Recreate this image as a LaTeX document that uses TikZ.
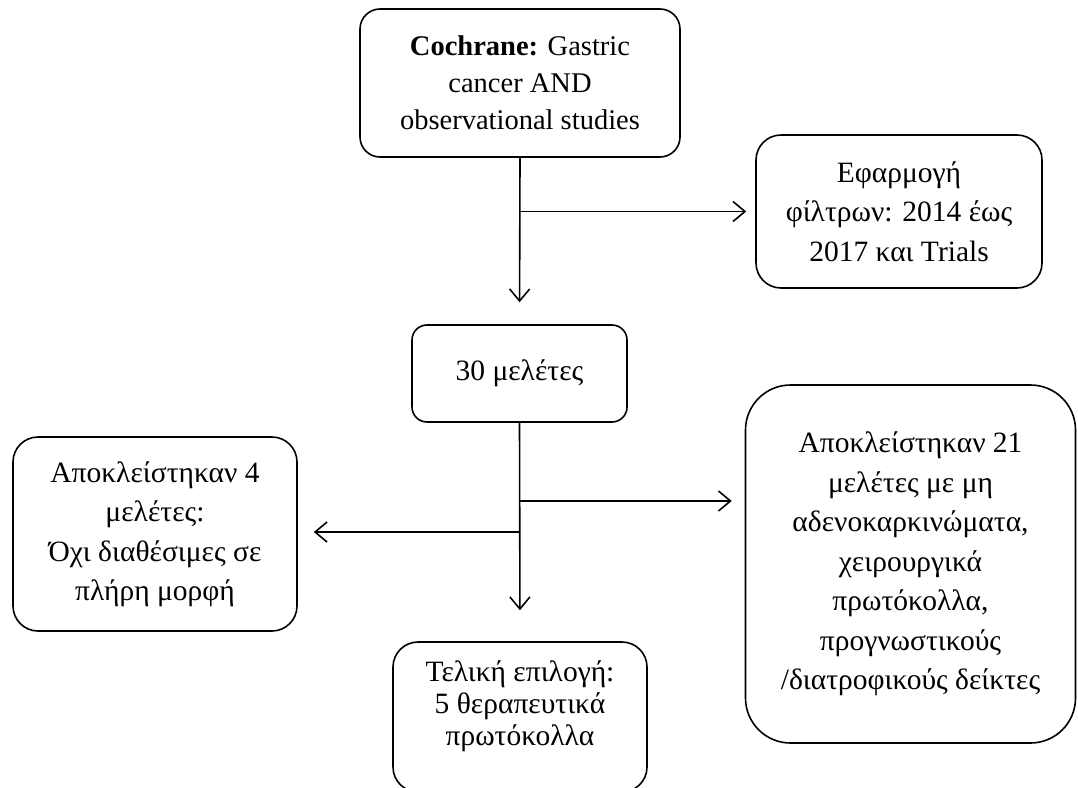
\documentclass[tikz,border=0pt]{standalone}
\usepackage{fontspec}
\setmainfont{Liberation Serif}
\usetikzlibrary{arrows.meta}
\begin{document}
\begin{tikzpicture}[x=1pt,y=-1pt,
  box/.style={draw, line width=1.6pt, rounded corners=#1, align=center, inner sep=0pt,
    font=\fontsize{29.5}{39.5}\selectfont},
  box/.default=20pt,
  txt/.style={align=center, inner sep=0pt, font=\fontsize{29.5}{32}\selectfont},
  arr/.style={line width=1.6pt, -{Straight Barb[length=12pt,width=20pt,line width=1.6pt]}}]
\fill[white] (0,0) rectangle (1078,787);
\useasboundingbox (0,0) rectangle (1078,787);
\clip (0,0) rectangle (1078,787);

\node[box=20pt, minimum width=320pt, minimum height=148pt,
  font=\fontsize{28.5}{37}\selectfont] (coch) at (520,83)
  {\textbf{Cochrane:} Gastric\\ cancer AND\\ observational studies};
\node[box=25pt, minimum width=286pt, minimum height=153pt] (filt) at (899,211.5)
  {Εφαρμογή\\ φίλτρων: 2014 έως\\ 2017 και Trials};
\node[box=15pt, minimum width=215pt, minimum height=97pt] (thirty) at (519.5,373.5)
  {30 μελέτες};
\node[box=25pt, minimum width=284pt, minimum height=194pt] (exl) at (155,534)
  {Αποκλείστηκαν 4\\ μελέτες:\\ Όχι διαθέσιμες σε\\ πλήρη μορφή};
\node[box=45pt, minimum width=330pt, minimum height=358pt] (exr) at (910.5,564)
  {Αποκλείστηκαν 21\\ μελέτες με μη\\ αδενοκαρκινώματα,\\ χειρουργικά\\ πρωτόκολλα,\\ προγνωστικούς\\ /διατροφικούς δείκτες};
\node[box=25pt, minimum width=254pt, minimum height=150pt] (final) at (520,717) {};
\node[txt] (finaltxt) at (520,706)
  {Τελική επιλογή:\\ 5 θεραπευτικά\\ πρωτόκολλα};

\coordinate (rj) at (519.5,501);
\coordinate (lj) at (519.5,532);

\draw[arr, shorten >=22pt] (coch.south) -- (thirty.north);
\draw[arr, shorten >=9pt] (coch.south |- filt.west) -- (filt.west);
\draw[arr, shorten >=31pt] (thirty.south) -- (final.north);
\draw[arr, shorten >=13pt] (rj) -- (rj -| exr.west);
\draw[arr, shorten >=16pt] (lj) -- (lj -| exl.east);
\end{tikzpicture}
\end{document}
